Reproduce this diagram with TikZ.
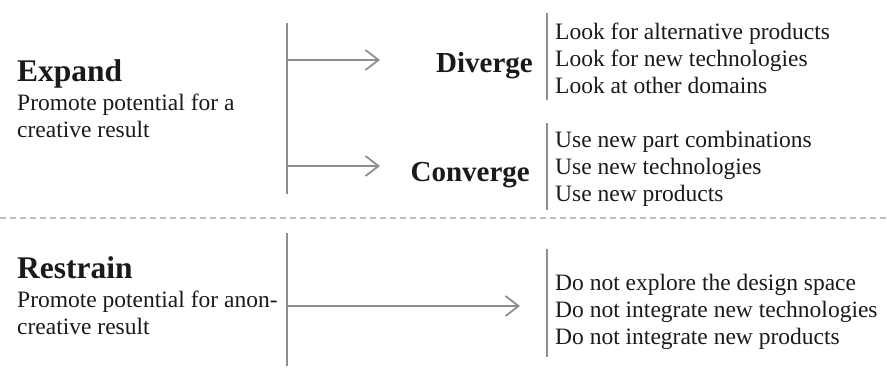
\documentclass[tikz,border=0pt]{standalone}
\usepackage{fontspec}
\setmainfont{Liberation Serif}
\usetikzlibrary{arrows.meta,positioning}
\definecolor{ink}{HTML}{1A1A1A}
\definecolor{linegray}{HTML}{8E8E8E}
\definecolor{dashgray}{HTML}{BDBDBD}

\begin{document}
\begin{tikzpicture}[
  x=1pt,y=-1pt,
  >={Straight Barb[length=13pt,width=20pt]},
  every node/.style={inner sep=0pt,text=ink},
  head/.style={font=\fontsize{31.5}{31.5}\selectfont\bfseries,anchor=base west},
  subhead/.style={font=\fontsize{29}{29}\selectfont\bfseries,anchor=base east},
  txt/.style={font=\fontsize{23.5}{27}\selectfont,anchor=base west},
  bar/.style={draw=linegray,line width=1.8pt},
  arc/.style={->,draw=linegray,line width=1.8pt},
  sep/.style={draw=dashgray,line width=1.3pt,dash pattern=on 6pt off 4pt}
]
\useasboundingbox (0,0) rectangle (887,368);
% upper half
\node[head] (expand) at (17,81) {Expand};
\node[txt] (expand1) at (17,110) {Promote potential for a};
\node[txt] (expand2) at (17,137) {creative result};
\coordinate (ltop) at (287,23);
\coordinate (lbot) at (287,194);
\draw[bar] (ltop) -- (lbot);
\coordinate (a1) at (287,60);
\coordinate (b1) at (380,60);
\coordinate (a2) at (287,166);
\coordinate (b2) at (380,166);
\draw[arc] (a1) -- (b1);
\draw[arc] (a2) -- (b2);
\node[subhead] (diverge) at (533,72) {Diverge};
\coordinate (dtop) at (547,13);
\coordinate (dbot) at (547,100);
\draw[bar] (dtop) -- (dbot);
\foreach \t [count=\i] in {Look for alternative products,Look for new technologies,Look at other domains}
  \node[txt] (div\i) at (555,{12+27*\i}) {\t};
\node[subhead] (converge) at (530,181) {Converge};
\coordinate (ctop) at (547,123);
\coordinate (cbot) at (547,210);
\draw[bar] (ctop) -- (cbot);
\foreach \t [count=\i] in {Use new part combinations,Use new technologies,Use new products}
  \node[txt] (con\i) at (555,{120+27*\i}) {\t};
% separator
\coordinate (sl) at (0,218);
\coordinate (sr) at (887,218);
\draw[sep] (sl) -- (sr);
% lower half
\node[head] (restrain) at (17,278) {Restrain};
\node[txt] (restrain1) at (17,307) {Promote potential for anon-};
\node[txt] (restrain2) at (17,334) {creative result};
\coordinate (rtop) at (287,233);
\coordinate (rbot) at (287,366);
\draw[bar] (rtop) -- (rbot);
\coordinate (a3) at (287,306);
\coordinate (b3) at (520,306);
\draw[arc] (a3) -- (b3);
\coordinate (ntop) at (547,249);
\coordinate (nbot) at (547,357);
\draw[bar] (ntop) -- (nbot);
\foreach \t [count=\i] in {Do not explore the design space,Do not integrate new technologies,Do not integrate new products}
  \node[txt] (res\i) at (555,{263+27*\i}) {\t};
\end{tikzpicture}
\end{document}
